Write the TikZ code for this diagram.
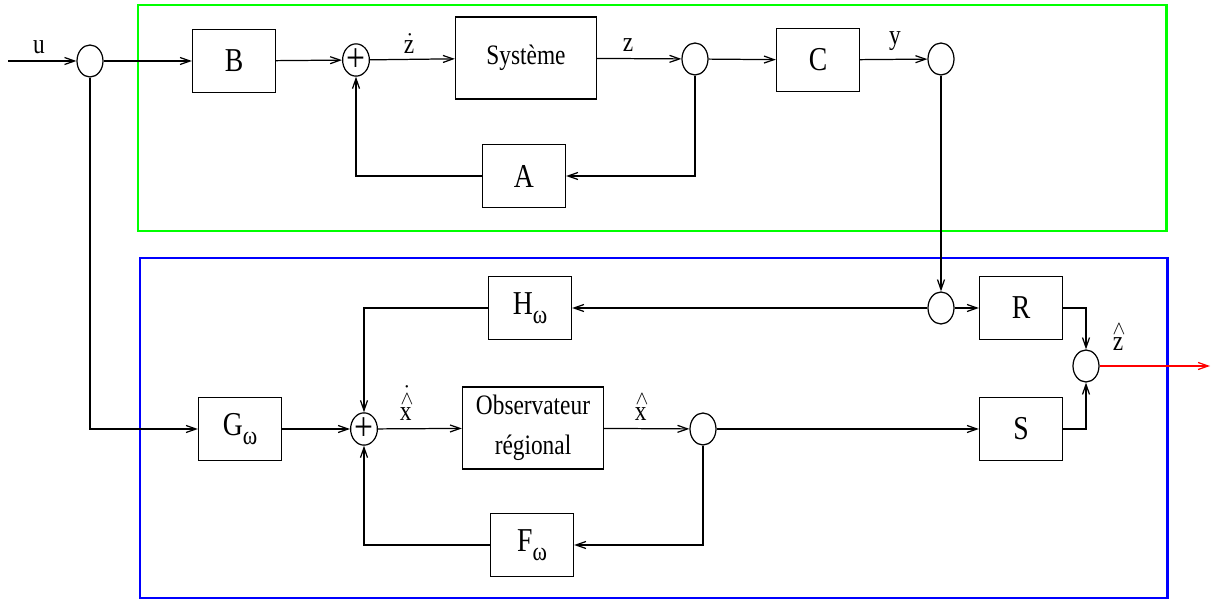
\documentclass[tikz,border=0pt]{standalone}
\usepackage{fontspec}
\setmainfont{Liberation Serif}[FakeStretch=0.83]
\usetikzlibrary{shapes.geometric,arrows.meta}
\newcommand{\wsub}{\raisebox{-5pt}{\fontsize{15}{15}\selectfont ω}}
\newcommand{\hatof}[1]{\stackrel{\wedge}{\mathrm{#1}}}
\begin{document}
\begin{tikzpicture}[
            x=0.2mm, y=-0.2mm,
            line width=0.7pt,
            >={Straight Barb[length=2mm,width=1.4mm]},
            blk/.style={
              draw,
              minimum width=16.6mm,
              minimum height=12.6mm,
              inner sep=0pt,
              font=\fontsize{19}{22}\selectfont
            },
            bigblk/.style={
              draw,
              minimum width=28.2mm,
              minimum height=16.4mm,
              align=center,
              font=\fontsize{16}{23}\selectfont
            },
            jn/.style={
              draw, ellipse,
              minimum width=5.2mm,
              minimum height=6.4mm,
              inner sep=0pt
            },
            sum/.style={
              jn,
              font=\fontsize{23}{23}\selectfont
            },
            lbl/.style={
              anchor=base,
              inner sep=0pt,
              font=\fontsize{16}{18}\selectfont
            }
        ]
    \useasboundingbox (0,0) rectangle (1212,603);

    \draw[green, line width=1.7pt] (138,5) rectangle (1166,231);
    \draw[blue, line width=1.7pt] (140,258) rectangle (1167,598);

    % upper loop
    \node[jn] (c1) at (90,61) {};
    \node[blk] (B) at (234,61) {B};
    \node[sum] (s1) at (356,60) {+};
    \node[bigblk] (sys) at (526,58) {Système};
    \node[jn] (c2) at (695,59) {};
    \node[blk] (C) at (818,60) {C};
    \node[jn] (c3) at (941,59) {};
    \node[blk] (A) at (524,176) {A};

    % observer
    \node[blk] (G) at (240,429) {G\wsub};
    \node[sum] (s2) at (364,429) {+};
    \node[blk] (H) at (530,308) {H\wsub};
    \node[bigblk] (obs) at (533,428) {Observateur\\régional};
    \node[jn] (c5) at (703,429) {};
    \node[blk] (F) at (532,545) {F\wsub};
    \node[jn] (c4) at (941,308) {};
    \node[blk] (R) at (1021,308) {R};
    \node[blk] (S) at (1021,429) {S};
    \node[jn] (c6) at (1086,366) {};

    \coordinate (uin) at (8,61);
    \coordinate (zout) at (1210,366);

    \node[lbl] (lu) at (39,54) {u};
    \node[lbl] (lzd) at (410,54) {$\dot{\mathrm{z}}$};
    \node[lbl] (lz) at (628,52) {z};
    \node[lbl] (ly) at (895,45) {y};
    \node[lbl] (lxd) at (407,422) {$\dot{\hatof{x}}$};
    \node[lbl] (lx) at (642,422) {$\hatof{x}$};
    \node[lbl] (lzh) at (1119,352) {$\hatof{z}$};

    \foreach \a/\b in {uin/c1, c1/B, B/s1, s1/sys, sys/c2, c2/C, C/c3,
                       G/s2, s2/obs, obs/c5, c5/S, c3/c4, c4/R, c4/H}
      \draw[->] (\a) -- (\b);

    \draw[->] (c2) |- (A);
    \draw[->] (A) -| (s1);
    \draw[->] (c1) |- (G);
    \draw[->] (H) -| (s2);
    \draw[->] (c5) |- (F);
    \draw[->] (F) -| (s2);
    \draw[->] (R) -| (c6);
    \draw[->] (S) -| (c6);
    \draw[->, red] (c6) -- (zout);

    \end{tikzpicture}
\end{document}
